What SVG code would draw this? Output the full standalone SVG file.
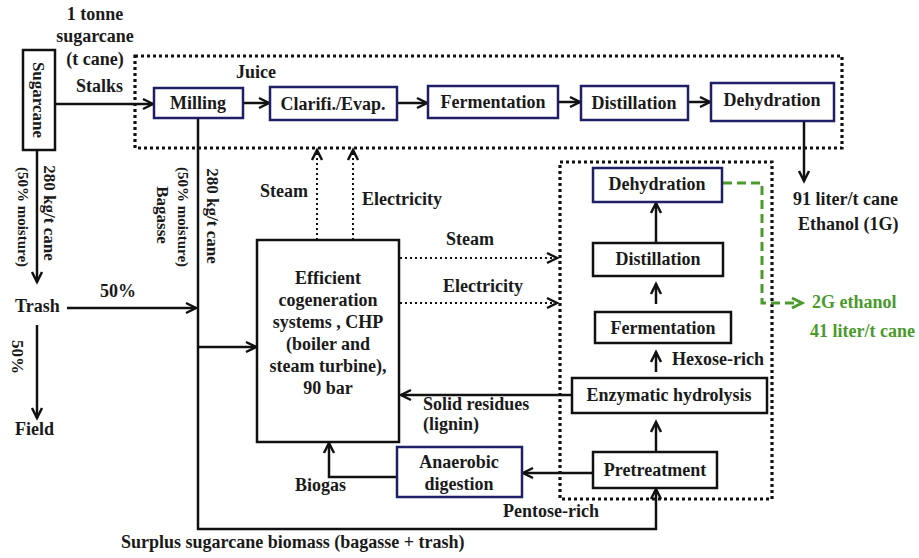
<svg xmlns="http://www.w3.org/2000/svg" width="919" height="558" viewBox="0 0 919 558">
<defs>
<style>
text{font-family:"Liberation Serif","Times New Roman",serif;font-weight:bold;font-size:18px;fill:#1a1a1a}
.c{text-anchor:middle}
.e{text-anchor:end}
.r{font-size:17px}
.nv{fill:#fff;stroke:#1f1f66;stroke-width:2.5}
.bk{fill:#fff;stroke:#111;stroke-width:2.5}
.ln{fill:none;stroke:#111;stroke-width:2.5}
.dot{fill:none;stroke:#111;stroke-width:3.2;stroke-dasharray:3 3}
.da{fill:none;stroke:#111;stroke-width:2;stroke-dasharray:2 3}
.gr{fill:none;stroke:#4a9a2c;stroke-width:3;stroke-dasharray:9 5}
.gt{fill:#4a9a2c}
.sm{font-size:15px}
</style>
<marker id="a" markerUnits="userSpaceOnUse" viewBox="0 0 12 12" refX="11" refY="6" markerWidth="12" markerHeight="12" orient="auto" overflow="visible"><path d="M1,1 L11,6 L1,11" fill="none" stroke="#111" stroke-width="2.5" stroke-dasharray="none"/></marker>
<marker id="g" markerUnits="userSpaceOnUse" viewBox="0 0 12 12" refX="11" refY="6" markerWidth="12" markerHeight="12" orient="auto" overflow="visible"><path d="M1,1 L11,6 L1,11" fill="none" stroke="#4a9a2c" stroke-width="3" stroke-dasharray="none"/></marker>
</defs>
<rect width="919" height="558" fill="#fff"/>

<g id="boundaries">
<rect class="dot" x="135" y="56" width="707" height="92"/>
<rect class="dot" x="560" y="162" width="212" height="337"/>
</g>

<g id="connectors">
<path class="ln" d="M55,104 H153" marker-end="url(#a)"/>
<path class="ln" d="M243,103 H269" marker-end="url(#a)"/>
<path class="ln" d="M397,103 H427" marker-end="url(#a)"/>
<path class="ln" d="M558,102 H580" marker-end="url(#a)"/>
<path class="ln" d="M688,102 H710" marker-end="url(#a)"/>
<path class="ln" d="M804,121 V181" marker-end="url(#a)"/>
<path class="ln" d="M37,150 V282" marker-end="url(#a)"/>
<path class="ln" d="M67,308 H196" marker-end="url(#a)"/>
<path class="ln" d="M37,325 V418" marker-end="url(#a)"/>
<path class="ln" d="M198,119 V529 H656 V489" marker-end="url(#a)"/>
<path class="ln" d="M198,347 H256" marker-end="url(#a)"/>
<path class="da" d="M317,240 V150" marker-end="url(#a)"/>
<path class="da" d="M353,240 V150" marker-end="url(#a)"/>
<path class="da" d="M400,258 H557" marker-end="url(#a)"/>
<path class="da" d="M400,303 H557" marker-end="url(#a)"/>
<path class="ln" d="M572,395 H401" marker-end="url(#a)"/>
<path class="ln" d="M593,473 H523" marker-end="url(#a)"/>
<path class="ln" d="M397,477 H329 V443" marker-end="url(#a)"/>
<path class="ln" d="M656,243 V203" marker-end="url(#a)"/>
<path class="ln" d="M656,304 V284" marker-end="url(#a)"/>
<path class="ln" d="M656,372 V352" marker-end="url(#a)"/>
<path class="ln" d="M656,452 V422" marker-end="url(#a)"/>
<path class="gr" d="M723,183 H762 V303 H802" marker-end="url(#g)"/>
</g>

<g id="sugarcane">
<rect class="bk" x="23" y="50" width="32" height="100"/>
<text class="c r" transform="translate(39,100) rotate(90)" y="6">Sugarcane</text>
</g>
<g id="milling"><rect class="nv" x="154" y="88" width="89" height="30"/><text class="c" x="198" y="109">Milling</text></g>
<g id="clarifi"><rect class="nv" x="270" y="87" width="127" height="33"/><text class="c" x="333" y="110">Clarifi./Evap.</text></g>
<g id="fermentation1"><rect class="nv" x="428" y="86" width="130" height="32"/><text class="c" x="493" y="108">Fermentation</text></g>
<g id="distillation1"><rect class="nv" x="581" y="86" width="107" height="34"/><text class="c" x="634" y="109">Distillation</text></g>
<g id="dehydration1"><rect class="nv" x="711" y="83" width="123" height="38"/><text class="c" x="772" y="106">Dehydration</text></g>

<g id="chp">
<rect class="bk" x="257" y="240" width="142" height="202"/>
<text class="c" x="328" y="284">Efficient</text>
<text class="c" x="328" y="306">cogeneration</text>
<text class="c" x="328" y="328">systems , CHP</text>
<text class="c" x="328" y="350">(boiler and</text>
<text class="c" x="328" y="372">steam turbine),</text>
<text class="c" x="328" y="394">90 bar</text>
</g>
<g id="anaerobic"><rect class="nv" x="397" y="447" width="125" height="50"/><text class="c" x="459" y="468">Anaerobic</text><text class="c" x="459" y="490">digestion</text></g>

<g id="dehydration2"><rect class="nv" x="593" y="168" width="129" height="34"/><text class="c" x="657" y="190">Dehydration</text></g>
<g id="distillation2"><rect class="bk" x="593" y="243" width="130" height="33"/><text class="c" x="658" y="265">Distillation</text></g>
<g id="fermentation2"><rect class="bk" x="595" y="312" width="136" height="31"/><text class="c" x="663" y="334">Fermentation</text></g>
<g id="enzymatic"><rect class="bk" x="572" y="378" width="195" height="35"/><text class="c" x="669" y="401">Enzymatic hydrolysis</text></g>
<g id="pretreatment"><rect class="bk" x="593" y="452" width="124" height="36"/><text class="c" x="655" y="476">Pretreatment</text></g>

<g id="labels">
<text class="c" x="95" y="20">1 tonne</text>
<text class="c" x="95" y="42">sugarcane</text>
<text class="c" x="95" y="65">(t cane)</text>
<text x="76" y="92">Stalks</text>
<text class="c" x="256" y="78">Juice</text>
<text x="793" y="205">91 liter/t cane</text>
<text x="798" y="230">Ethanol (1G)</text>
<text class="c r" transform="translate(50,213) rotate(90)" y="6">280 kg/t cane</text>
<text class="c sm" transform="translate(23,217) rotate(90)" y="5">(50% moisture)</text>
<text x="15" y="312">Trash</text>
<text class="c" x="118" y="297">50%</text>
<text class="c r" transform="translate(18,357) rotate(90)" y="6">50%</text>
<text x="15" y="435">Field</text>
<text class="c r" transform="translate(163,215) rotate(90)" y="6">Bagasse</text>
<text class="c sm" transform="translate(183,217) rotate(90)" y="5">(50% moisture)</text>
<text class="c r" transform="translate(213,216) rotate(90)" y="6">280 kg/t cane</text>
<text class="e" x="308" y="197">Steam</text>
<text x="362" y="205">Electricity</text>
<text class="c" x="470" y="245">Steam</text>
<text class="c" x="483" y="292">Electricity</text>
<text x="423" y="410">Solid residues</text>
<text x="423" y="430">(lignin)</text>
<text x="672" y="365">Hexose-rich</text>
<text class="gt" x="812" y="308">2G ethanol</text>
<text class="gt" x="810" y="337">41 liter/t cane</text>
<text x="295" y="491">Biogas</text>
<text x="503" y="517">Pentose-rich</text>
<text x="121" y="548">Surplus sugarcane biomass (bagasse + trash)</text>
</g>
</svg>
